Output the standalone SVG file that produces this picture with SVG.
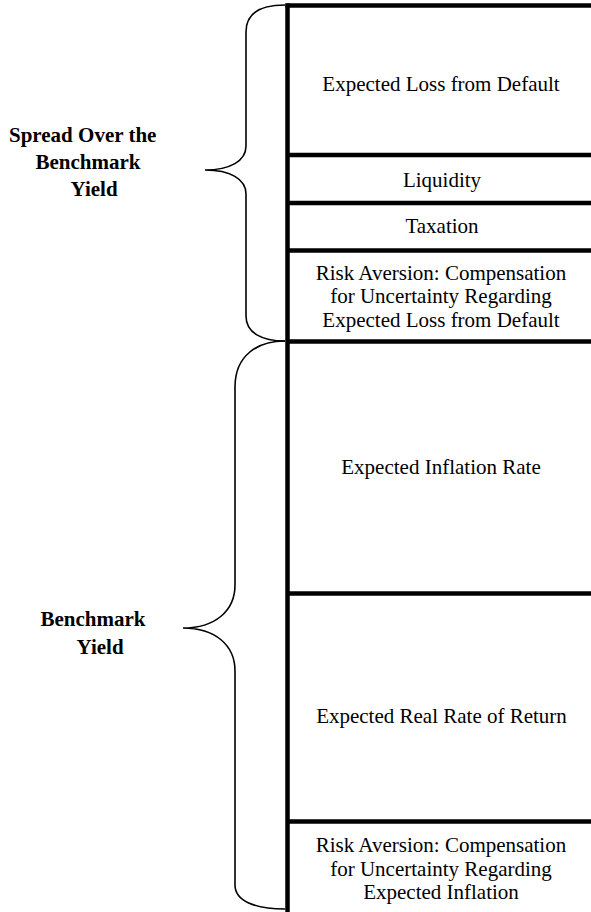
<svg xmlns="http://www.w3.org/2000/svg" width="591" height="912" viewBox="0 0 591 912">
<style>
.bar{stroke:#000;stroke-width:4.5;fill:none}
.brace{stroke:#000;stroke-width:1.6;fill:none}
.t{font-family:"Liberation Serif","Times New Roman",serif;font-size:21px;fill:#000;text-anchor:middle}
.b{font-family:"Liberation Serif","Times New Roman",serif;font-size:21px;font-weight:bold;fill:#000}
</style>
<rect width="591" height="912" fill="#fff"/>
<g id="frame">
<line class="bar" x1="287.5" y1="3.5" x2="287.5" y2="912"/>
<line class="bar" x1="285.5" y1="5.5" x2="591" y2="5.5"/>
</g>
<g id="box-expected-loss">
<line class="bar" x1="287" y1="155" x2="591" y2="155"/>
<text class="t" x="441" y="91">Expected Loss from Default</text>
</g>
<g id="box-liquidity">
<line class="bar" x1="287" y1="203" x2="591" y2="203"/>
<text class="t" x="442" y="186.5">Liquidity</text>
</g>
<g id="box-taxation">
<line class="bar" x1="287" y1="250.5" x2="591" y2="250.5"/>
<text class="t" x="442" y="233">Taxation</text>
</g>
<g id="box-risk-default">
<line class="bar" x1="287" y1="341.5" x2="591" y2="341.5"/>
<text class="t" x="441" y="279.5">Risk Aversion: Compensation</text>
<text class="t" x="441" y="303">for Uncertainty Regarding</text>
<text class="t" x="441" y="326.5">Expected Loss from Default</text>
</g>
<g id="box-inflation">
<line class="bar" x1="287" y1="593.5" x2="591" y2="593.5"/>
<text class="t" x="441" y="474">Expected Inflation Rate</text>
</g>
<g id="box-real-rate">
<line class="bar" x1="287" y1="821.5" x2="591" y2="821.5"/>
<text class="t" x="441.5" y="722.5">Expected Real Rate of Return</text>
</g>
<g id="box-risk-inflation">
<text class="t" x="441" y="852">Risk Aversion: Compensation</text>
<text class="t" x="441" y="875.5">for Uncertainty Regarding</text>
<text class="t" x="441" y="899">Expected Inflation</text>
</g>
<g id="label-spread">
<text class="b" x="9" y="141.5">Spread Over the</text>
<text class="b" x="35.5" y="169">Benchmark</text>
<text class="b" x="70.5" y="196">Yield</text>
</g>
<g id="label-benchmark">
<text class="b" x="40.5" y="626">Benchmark</text>
<text class="b" x="76.5" y="654">Yield</text>
</g>
<g id="connectors">
<path class="brace" d="M285 5 C262 5 246 12 246 32 L246 146 C246 161 230 170 205 170 C230 170 246 179 246 194 L246 316 C246 333 262 341 285 341"/>
<path class="brace" d="M285 341 C258 341 235 355 235 387 L235 585 C235 611 215 628 183 628 C215 628 235 645 235 671 L235 885 C235 901 255 909 285 909"/>
</g>
</svg>
